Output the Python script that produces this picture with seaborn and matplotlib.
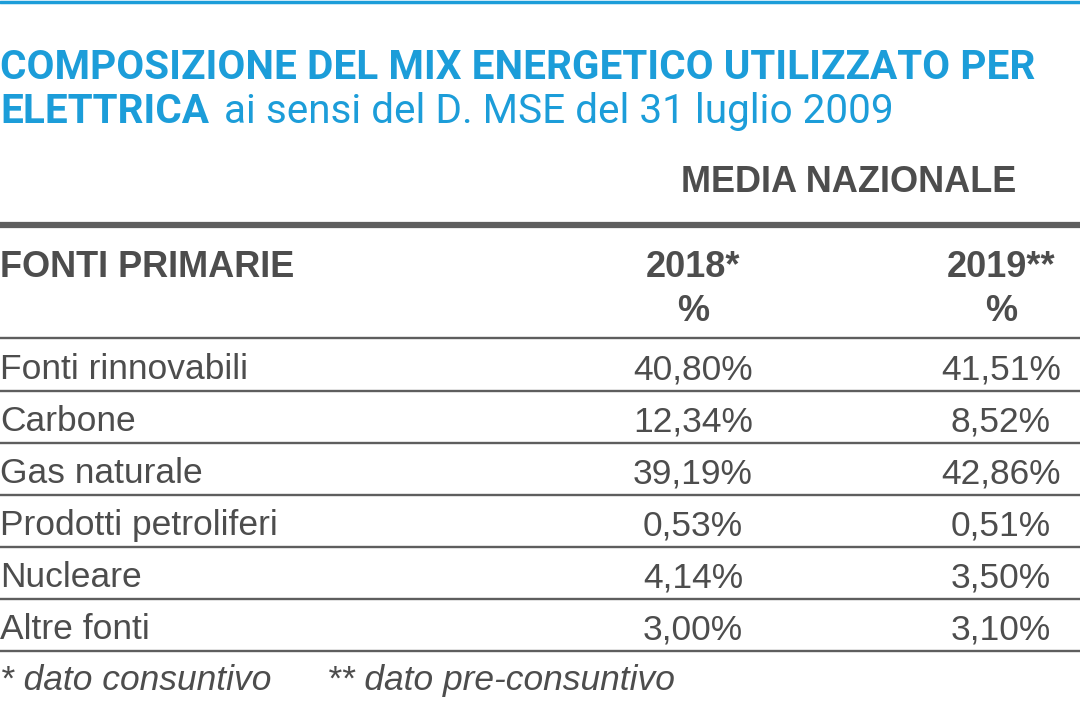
import matplotlib
matplotlib.use("Agg")
import matplotlib.pyplot as plt
import seaborn as sns

# Table content
title_line1 = "COMPOSIZIONE DEL MIX ENERGETICO UTILIZZATO PER"
title_bold2 = "ELETTRICA"
title_light2 = "ai sensi del D. MSE del 31 luglio 2009"
group_header = "MEDIA NAZIONALE"
row_header = "FONTI PRIMARIE"
years = ["2018*", "2019**"]
sources = ["Fonti rinnovabili", "Carbone", "Gas naturale",
           "Prodotti petroliferi", "Nucleare", "Altre fonti"]
values_2018 = [40.80, 12.34, 39.19, 0.53, 4.14, 3.00]
values_2019 = [41.51, 8.52, 42.86, 0.51, 3.50, 3.10]
notes = ["* dato consuntivo", "** dato pre-consuntivo"]

BLUE = "#1c9dd9"
GREY = "#4d4d4d"
LINE = "#5e5e5e"
TITLE_FONT = ["Roboto", "DejaVu Sans"]

sns.set_theme(style="white")
plt.rcParams["font.family"] = ["Liberation Sans", "DejaVu Sans"]

fig = plt.figure(figsize=(10.8, 7.12), dpi=100)
ax = fig.add_axes([0, 0, 1, 1])
ax.set_xlim(0, 1080)
ax.set_ylim(712, 0)
ax.axis("off")

def pct(v):
    return f"{v:.2f}%".replace(".", ",")

# top blue rule
ax.axhline(1.5, color=BLUE, lw=2.5)

# title: fit the first line to the figure width, within limits
t1 = ax.text(0, 79, title_line1, color=BLUE, fontsize=27, fontweight="bold",
             family=TITLE_FONT, va="baseline", ha="left")
renderer = fig.canvas.get_renderer()
w = t1.get_window_extent(renderer).width
size = min(27 * 1074 / w, 29.2)
t1.set_fontsize(size)

t2 = ax.text(0, 123, title_bold2, color=BLUE, fontsize=size, fontweight="bold",
             family=TITLE_FONT, va="baseline", ha="left")
ax.annotate(title_light2, xy=(1, 0), xycoords=t2, xytext=(11, 0),
            textcoords="offset points", color=BLUE, fontsize=size,
            fontweight="normal", family=TITLE_FONT,
            va="bottom", ha="left")

col_x = [693, 1001]

ax.text(849, 192, group_header, color=GREY, fontsize=26, fontweight="bold",
        va="baseline", ha="center")
ax.axhline(224.5, color=LINE, lw=4.5)

ax.text(0, 277, row_header, color=GREY, fontsize=26, fontweight="bold",
        va="baseline", ha="left")
for x, y in zip(col_x, years):
    ax.text(x, 277, y, color=GREY, fontsize=26, fontweight="bold",
            va="baseline", ha="center")
    ax.text(x, 321, "%", color=GREY, fontsize=26, fontweight="bold",
            va="baseline", ha="center")

row_lines = [338, 391, 443, 495, 547, 599, 651]
for y in row_lines:
    ax.axhline(y, color=LINE, lw=1.7)

for i, name in enumerate(sources):
    base = row_lines[i + 1] - 12
    ax.text(0, base, name, color=GREY, fontsize=25.5, va="baseline", ha="left")
    ax.text(col_x[0], base, pct(values_2018[i]), color=GREY, fontsize=25.5,
            va="baseline", ha="center")
    ax.text(col_x[1], base, pct(values_2019[i]), color=GREY, fontsize=25.5,
            va="baseline", ha="center")

ax.text(0, 690, notes[0], color=GREY, fontsize=25.5, style="italic",
        va="baseline", ha="left")
ax.text(327, 690, notes[1], color=GREY, fontsize=25.5, style="italic",
        va="baseline", ha="left")

fig.savefig("out.png", dpi=100, facecolor="white")
